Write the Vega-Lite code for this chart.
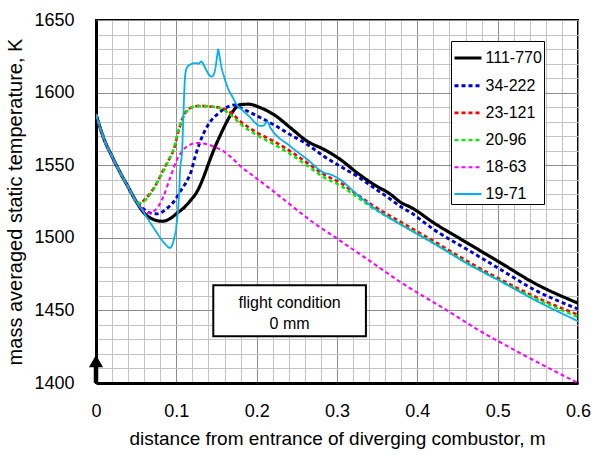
{
  "$schema": "https://vega.github.io/schema/vega-lite/v6.json",
  "autosize": "none",
  "width": 482,
  "height": 363,
  "padding": {"left": 96, "top": 20, "right": 15, "bottom": 72},
  "background": "white",
  "config": {
    "font": "Liberation Sans",
    "view": {"stroke": "black", "strokeWidth": 2},
    "axis": {
      "labelFont": "Liberation Sans",
      "titleFont": "Liberation Sans",
      "labelColor": "black",
      "titleColor": "black",
      "labelFontSize": 18,
      "titleFontSize": 19,
      "titleFontWeight": "normal",
      "ticks": false,
      "domainColor": "black",
      "domainWidth": 3,
      "labelOverlap": false,
      "labelBound": false,
      "labelFlush": false
    },
    "legend": {
      "orient": "none", "legendX": 355, "legendY": 21,
      "symbolType": "stroke", "symbolSize": 729,
      "labelFont": "Liberation Sans", "labelFontSize": 16, "labelColor": "black",
      "labelOffset": 2, "rowPadding": 4.2, "padding": 1.5,
      "strokeColor": "black", "fillColor": "white"
    }
  },
  "datasets": {
    "curves": [
      {"s": "111-770", "d": 0, "t": 1585}, {"s": "111-770", "d": 0.005, "t": 1576}, {"s": "111-770", "d": 0.01, "t": 1568}, {"s": "111-770", "d": 0.02, "t": 1556}, {"s": "111-770", "d": 0.03, "t": 1545}, {"s": "111-770", "d": 0.04, "t": 1535}, {"s": "111-770", "d": 0.05, "t": 1525},
      {"s": "111-770", "d": 0.06, "t": 1517}, {"s": "111-770", "d": 0.07, "t": 1513}, {"s": "111-770", "d": 0.082, "t": 1511.4}, {"s": "111-770", "d": 0.09, "t": 1512.5}, {"s": "111-770", "d": 0.101, "t": 1517}, {"s": "111-770", "d": 0.11, "t": 1521}, {"s": "111-770", "d": 0.118, "t": 1526}, {"s": "111-770", "d": 0.126, "t": 1532}, {"s": "111-770", "d": 0.134, "t": 1542}, {"s": "111-770", "d": 0.14, "t": 1551}, {"s": "111-770", "d": 0.147, "t": 1561}, {"s": "111-770", "d": 0.155, "t": 1571}, {"s": "111-770", "d": 0.162, "t": 1579}, {"s": "111-770", "d": 0.168, "t": 1585}, {"s": "111-770", "d": 0.174, "t": 1589.5}, {"s": "111-770", "d": 0.18, "t": 1591.8}, {"s": "111-770", "d": 0.19, "t": 1592}, {"s": "111-770", "d": 0.205, "t": 1589.5}, {"s": "111-770", "d": 0.221, "t": 1585}, {"s": "111-770", "d": 0.242, "t": 1575.8}, {"s": "111-770", "d": 0.263, "t": 1566.5}, {"s": "111-770", "d": 0.284, "t": 1560.8}, {"s": "111-770", "d": 0.304, "t": 1554}, {"s": "111-770", "d": 0.325, "t": 1544.8}, {"s": "111-770", "d": 0.346, "t": 1536.7}, {"s": "111-770", "d": 0.367, "t": 1529.8}, {"s": "111-770", "d": 0.379, "t": 1524.5}, {"s": "111-770", "d": 0.392, "t": 1521}, {"s": "111-770", "d": 0.4205, "t": 1510.3}, {"s": "111-770", "d": 0.462, "t": 1496.5}, {"s": "111-770", "d": 0.5035, "t": 1482.8}, {"s": "111-770", "d": 0.545, "t": 1469}, {"s": "111-770", "d": 0.6, "t": 1455},

      {"s": "34-222", "d": 0, "t": 1585}, {"s": "34-222", "d": 0.005, "t": 1576}, {"s": "34-222", "d": 0.01, "t": 1568}, {"s": "34-222", "d": 0.02, "t": 1556}, {"s": "34-222", "d": 0.03, "t": 1545}, {"s": "34-222", "d": 0.04, "t": 1535}, {"s": "34-222", "d": 0.05, "t": 1525},
      {"s": "34-222", "d": 0.06, "t": 1519.5}, {"s": "34-222", "d": 0.068, "t": 1517}, {"s": "34-222", "d": 0.076, "t": 1516.5}, {"s": "34-222", "d": 0.083, "t": 1518}, {"s": "34-222", "d": 0.089, "t": 1520.6}, {"s": "34-222", "d": 0.097, "t": 1525}, {"s": "34-222", "d": 0.105, "t": 1532}, {"s": "34-222", "d": 0.112, "t": 1538}, {"s": "34-222", "d": 0.118, "t": 1545}, {"s": "34-222", "d": 0.124, "t": 1557}, {"s": "34-222", "d": 0.134, "t": 1572}, {"s": "34-222", "d": 0.143, "t": 1580.5}, {"s": "34-222", "d": 0.151, "t": 1585}, {"s": "34-222", "d": 0.16, "t": 1589}, {"s": "34-222", "d": 0.167, "t": 1590.8}, {"s": "34-222", "d": 0.172, "t": 1591.5}, {"s": "34-222", "d": 0.18, "t": 1589.5}, {"s": "34-222", "d": 0.201, "t": 1583.8}, {"s": "34-222", "d": 0.221, "t": 1578}, {"s": "34-222", "d": 0.242, "t": 1571}, {"s": "34-222", "d": 0.263, "t": 1564.3}, {"s": "34-222", "d": 0.284, "t": 1556}, {"s": "34-222", "d": 0.304, "t": 1549.3}, {"s": "34-222", "d": 0.325, "t": 1542.4}, {"s": "34-222", "d": 0.346, "t": 1534.4}, {"s": "34-222", "d": 0.367, "t": 1526.4}, {"s": "34-222", "d": 0.379, "t": 1521.5}, {"s": "34-222", "d": 0.392, "t": 1517.3}, {"s": "34-222", "d": 0.4205, "t": 1505.7}, {"s": "34-222", "d": 0.462, "t": 1492}, {"s": "34-222", "d": 0.5035, "t": 1478.2}, {"s": "34-222", "d": 0.545, "t": 1464.4}, {"s": "34-222", "d": 0.6, "t": 1451},

      {"s": "23-121", "d": 0, "t": 1585}, {"s": "23-121", "d": 0.005, "t": 1576}, {"s": "23-121", "d": 0.01, "t": 1568}, {"s": "23-121", "d": 0.02, "t": 1556}, {"s": "23-121", "d": 0.03, "t": 1545}, {"s": "23-121", "d": 0.04, "t": 1535}, {"s": "23-121", "d": 0.05, "t": 1525},
      {"s": "23-121", "d": 0.054, "t": 1523}, {"s": "23-121", "d": 0.06, "t": 1526}, {"s": "23-121", "d": 0.068, "t": 1531}, {"s": "23-121", "d": 0.076, "t": 1538}, {"s": "23-121", "d": 0.084, "t": 1547}, {"s": "23-121", "d": 0.091, "t": 1554}, {"s": "23-121", "d": 0.097, "t": 1561}, {"s": "23-121", "d": 0.103, "t": 1574}, {"s": "23-121", "d": 0.109, "t": 1584}, {"s": "23-121", "d": 0.118, "t": 1589.5}, {"s": "23-121", "d": 0.13, "t": 1591}, {"s": "23-121", "d": 0.14, "t": 1590.5}, {"s": "23-121", "d": 0.155, "t": 1589.5}, {"s": "23-121", "d": 0.167, "t": 1586.5}, {"s": "23-121", "d": 0.18, "t": 1580}, {"s": "23-121", "d": 0.201, "t": 1572.3}, {"s": "23-121", "d": 0.221, "t": 1566.5}, {"s": "23-121", "d": 0.242, "t": 1559.6}, {"s": "23-121", "d": 0.263, "t": 1551.6}, {"s": "23-121", "d": 0.284, "t": 1543.6}, {"s": "23-121", "d": 0.304, "t": 1537.9}, {"s": "23-121", "d": 0.325, "t": 1529.8}, {"s": "23-121", "d": 0.346, "t": 1521.8}, {"s": "23-121", "d": 0.379, "t": 1511}, {"s": "23-121", "d": 0.4205, "t": 1497.7}, {"s": "23-121", "d": 0.462, "t": 1483.9}, {"s": "23-121", "d": 0.5035, "t": 1471.3}, {"s": "23-121", "d": 0.545, "t": 1459.8}, {"s": "23-121", "d": 0.6, "t": 1447},

      {"s": "20-96", "d": 0, "t": 1585}, {"s": "20-96", "d": 0.005, "t": 1576}, {"s": "20-96", "d": 0.01, "t": 1568}, {"s": "20-96", "d": 0.02, "t": 1556}, {"s": "20-96", "d": 0.03, "t": 1545}, {"s": "20-96", "d": 0.04, "t": 1535}, {"s": "20-96", "d": 0.05, "t": 1525},
      {"s": "20-96", "d": 0.055, "t": 1524}, {"s": "20-96", "d": 0.064, "t": 1527.5}, {"s": "20-96", "d": 0.07, "t": 1532}, {"s": "20-96", "d": 0.076, "t": 1538}, {"s": "20-96", "d": 0.083, "t": 1545}, {"s": "20-96", "d": 0.089, "t": 1551.7}, {"s": "20-96", "d": 0.097, "t": 1562}, {"s": "20-96", "d": 0.103, "t": 1575}, {"s": "20-96", "d": 0.109, "t": 1583.5}, {"s": "20-96", "d": 0.114, "t": 1587.5}, {"s": "20-96", "d": 0.126, "t": 1590.8}, {"s": "20-96", "d": 0.14, "t": 1590.6}, {"s": "20-96", "d": 0.159, "t": 1588}, {"s": "20-96", "d": 0.17, "t": 1583.5}, {"s": "20-96", "d": 0.18, "t": 1578.3}, {"s": "20-96", "d": 0.201, "t": 1570.5}, {"s": "20-96", "d": 0.221, "t": 1564.5}, {"s": "20-96", "d": 0.242, "t": 1557.6}, {"s": "20-96", "d": 0.263, "t": 1549.6}, {"s": "20-96", "d": 0.284, "t": 1541.6}, {"s": "20-96", "d": 0.304, "t": 1536}, {"s": "20-96", "d": 0.325, "t": 1528}, {"s": "20-96", "d": 0.346, "t": 1520}, {"s": "20-96", "d": 0.379, "t": 1509.5}, {"s": "20-96", "d": 0.4205, "t": 1496.3}, {"s": "20-96", "d": 0.462, "t": 1482.7}, {"s": "20-96", "d": 0.5035, "t": 1470.2}, {"s": "20-96", "d": 0.545, "t": 1458.7}, {"s": "20-96", "d": 0.6, "t": 1445.5},

      {"s": "18-63", "d": 0, "t": 1585}, {"s": "18-63", "d": 0.005, "t": 1576}, {"s": "18-63", "d": 0.01, "t": 1568}, {"s": "18-63", "d": 0.02, "t": 1556}, {"s": "18-63", "d": 0.03, "t": 1545}, {"s": "18-63", "d": 0.04, "t": 1535}, {"s": "18-63", "d": 0.05, "t": 1525},
      {"s": "18-63", "d": 0.058, "t": 1519.5}, {"s": "18-63", "d": 0.064, "t": 1517}, {"s": "18-63", "d": 0.072, "t": 1518.3}, {"s": "18-63", "d": 0.078, "t": 1522}, {"s": "18-63", "d": 0.084, "t": 1528.6}, {"s": "18-63", "d": 0.093, "t": 1542.4}, {"s": "18-63", "d": 0.101, "t": 1554}, {"s": "18-63", "d": 0.107, "t": 1559.5}, {"s": "18-63", "d": 0.115, "t": 1563.5}, {"s": "18-63", "d": 0.126, "t": 1565.3}, {"s": "18-63", "d": 0.138, "t": 1564.5}, {"s": "18-63", "d": 0.15, "t": 1562}, {"s": "18-63", "d": 0.159, "t": 1559.6}, {"s": "18-63", "d": 0.17, "t": 1554.5}, {"s": "18-63", "d": 0.18, "t": 1549.3}, {"s": "18-63", "d": 0.196, "t": 1542.5}, {"s": "18-63", "d": 0.221, "t": 1532}, {"s": "18-63", "d": 0.238, "t": 1524.5}, {"s": "18-63", "d": 0.271, "t": 1510.3}, {"s": "18-63", "d": 0.3, "t": 1499.5}, {"s": "18-63", "d": 0.354, "t": 1479}, {"s": "18-63", "d": 0.379, "t": 1469.5}, {"s": "18-63", "d": 0.437, "t": 1450}, {"s": "18-63", "d": 0.4745, "t": 1437}, {"s": "18-63", "d": 0.52, "t": 1423}, {"s": "18-63", "d": 0.6, "t": 1400},

      {"s": "19-71", "d": 0, "t": 1585}, {"s": "19-71", "d": 0.005, "t": 1576}, {"s": "19-71", "d": 0.01, "t": 1568}, {"s": "19-71", "d": 0.02, "t": 1556}, {"s": "19-71", "d": 0.03, "t": 1545}, {"s": "19-71", "d": 0.04, "t": 1535}, {"s": "19-71", "d": 0.05, "t": 1525},
      {"s": "19-71", "d": 0.06, "t": 1517}, {"s": "19-71", "d": 0.068, "t": 1510}, {"s": "19-71", "d": 0.074, "t": 1505}, {"s": "19-71", "d": 0.08, "t": 1500}, {"s": "19-71", "d": 0.0865, "t": 1495.4}, {"s": "19-71", "d": 0.092, "t": 1493}, {"s": "19-71", "d": 0.097, "t": 1499}, {"s": "19-71", "d": 0.1, "t": 1508}, {"s": "19-71", "d": 0.103, "t": 1526}, {"s": "19-71", "d": 0.105, "t": 1549}, {"s": "19-71", "d": 0.107, "t": 1558}, {"s": "19-71", "d": 0.1085, "t": 1579}, {"s": "19-71", "d": 0.11, "t": 1602}, {"s": "19-71", "d": 0.111, "t": 1612}, {"s": "19-71", "d": 0.1135, "t": 1617.5}, {"s": "19-71", "d": 0.118, "t": 1619.5}, {"s": "19-71", "d": 0.124, "t": 1620.3}, {"s": "19-71", "d": 0.128, "t": 1620}, {"s": "19-71", "d": 0.131, "t": 1621.5}, {"s": "19-71", "d": 0.135, "t": 1618}, {"s": "19-71", "d": 0.1405, "t": 1612.5}, {"s": "19-71", "d": 0.144, "t": 1611}, {"s": "19-71", "d": 0.147, "t": 1613}, {"s": "19-71", "d": 0.149, "t": 1618}, {"s": "19-71", "d": 0.151, "t": 1626}, {"s": "19-71", "d": 0.152, "t": 1629.7}, {"s": "19-71", "d": 0.1535, "t": 1626}, {"s": "19-71", "d": 0.156, "t": 1618}, {"s": "19-71", "d": 0.16, "t": 1610}, {"s": "19-71", "d": 0.165, "t": 1602}, {"s": "19-71", "d": 0.17, "t": 1597}, {"s": "19-71", "d": 0.176, "t": 1591}, {"s": "19-71", "d": 0.18, "t": 1589}, {"s": "19-71", "d": 0.19, "t": 1584}, {"s": "19-71", "d": 0.205, "t": 1577}, {"s": "19-71", "d": 0.209, "t": 1577.5}, {"s": "19-71", "d": 0.213, "t": 1580}, {"s": "19-71", "d": 0.217, "t": 1576}, {"s": "19-71", "d": 0.242, "t": 1563}, {"s": "19-71", "d": 0.263, "t": 1554}, {"s": "19-71", "d": 0.284, "t": 1544.8}, {"s": "19-71", "d": 0.292, "t": 1543.6}, {"s": "19-71", "d": 0.304, "t": 1540}, {"s": "19-71", "d": 0.325, "t": 1529.8}, {"s": "19-71", "d": 0.346, "t": 1520.6}, {"s": "19-71", "d": 0.379, "t": 1509.2}, {"s": "19-71", "d": 0.4205, "t": 1496.1}, {"s": "19-71", "d": 0.462, "t": 1482.3}, {"s": "19-71", "d": 0.5035, "t": 1470.1}, {"s": "19-71", "d": 0.545, "t": 1457.5}, {"s": "19-71", "d": 0.6, "t": 1442.6}
    ],
    "note": [{"da": 0.146, "db": 0.336, "ta": 1432.2, "tb": 1467.4, "dc": 0.241, "tc": 1455.2, "label": "flight condition\n0 mm"}],
    "arrow": [{"d": 0, "t": 1400, "th": 1411, "tp": 1415}]
  },
  "layer": [
    {
      "data": {"name": "curves"},
      "mark": {"type": "line", "interpolate": "monotone", "clip": true},
      "encoding": {
        "x": {
          "field": "d", "type": "quantitative",
          "scale": {"domain": [0, 0.6], "nice": false, "zero": false},
          "axis": {
            "title": "distance from entrance of diverging combustor, m",
            "values": [0,0.02,0.04,0.06,0.08,0.1,0.12,0.14,0.16,0.18,0.2,0.22,0.24,0.26,0.28,0.3,0.32,0.34,0.36,0.38,0.4,0.42,0.44,0.46,0.48,0.5,0.52,0.54,0.56,0.58,0.6],
            "tickCount": 200,
            "labelExpr": "abs(datum.value*10 - round(datum.value*10)) < 0.000001 ? format(datum.value, '.1~f') : ''",
            "labelOverlap": false,
            "labelFlush": false,
            "grid": true,
            "gridColor": {"condition": {"test": "abs(datum.value*10 - round(datum.value*10)) < 0.000001", "value": "#8c8c8c"}, "value": "#c4c4c4"},
            "labelPadding": 19,
            "titlePadding": 9
          }
        },
        "y": {
          "field": "t", "type": "quantitative",
          "scale": {"domain": [1400, 1650], "nice": false, "zero": false},
          "axis": {
            "title": "mass averaged static temperature, K",
            "titleFontSize": 20,
            "values": [1400,1410,1420,1430,1440,1450,1460,1470,1480,1490,1500,1510,1520,1530,1540,1550,1560,1570,1580,1590,1600,1610,1620,1630,1640,1650],
            "tickCount": 200,
            "labelExpr": "datum.value % 50 == 0 ? datum.label : ''",
            "labelOverlap": false,
            "labelFlush": false,
            "grid": true,
            "gridColor": {"condition": {"test": "datum.value % 50 == 0", "value": "#8c8c8c"}, "value": "#c4c4c4"},
            "format": "d",
            "labelPadding": 22,
            "titlePadding": 8
          }
        },
        "color": {
          "field": "s", "type": "nominal",
          "scale": {"domain": ["111-770", "34-222", "23-121", "20-96", "18-63", "19-71"], "range": ["#000000", "#0000cc", "#ff0000", "#00ee00", "#ff00ff", "#00b0f0"]},
          "legend": {"title": null}
        },
        "strokeDash": {
          "field": "s", "type": "nominal",
          "scale": {"domain": ["111-770", "34-222", "23-121", "20-96", "18-63", "19-71"], "range": [[1, 0], [4, 3], [4, 3], [4, 3], [4, 3], [1, 0]]},
          "legend": {"title": null}
        },
        "strokeWidth": {
          "field": "s", "type": "nominal",
          "scale": {"domain": ["111-770", "34-222", "23-121", "20-96", "18-63", "19-71"], "range": [3.2, 1.8, 1.8, 1.8, 1.8, 2.2]},
          "legend": {"title": null}
        }
      }
    },
    {
      "data": {"name": "note"},
      "mark": {"type": "rect", "fill": "white", "stroke": "black", "strokeWidth": 2},
      "encoding": {
        "x": {"field": "da", "type": "quantitative"},
        "x2": {"field": "db"},
        "y": {"field": "ta", "type": "quantitative"},
        "y2": {"field": "tb"}
      }
    },
    {
      "data": {"name": "note"},
      "mark": {"type": "text", "font": "Liberation Sans", "fontSize": 16, "color": "black", "align": "center", "baseline": "middle", "lineHeight": 21, "lineBreak": "\n"},
      "encoding": {
        "x": {"field": "dc", "type": "quantitative"},
        "y": {"field": "tc", "type": "quantitative"},
        "text": {"field": "label"}
      }
    },
    {
      "data": {"name": "arrow"},
      "mark": {"type": "rule", "color": "black", "strokeWidth": 4.5, "clip": false},
      "encoding": {
        "x": {"field": "d", "type": "quantitative"},
        "y": {"field": "t", "type": "quantitative"},
        "y2": {"field": "th"}
      }
    },
    {
      "data": {"name": "arrow"},
      "mark": {"type": "point", "shape": "triangle-up", "filled": true, "color": "black", "size": 200, "opacity": 1, "clip": false},
      "encoding": {
        "x": {"field": "d", "type": "quantitative"},
        "y": {"field": "tp", "type": "quantitative"}
      }
    }
  ]
}
